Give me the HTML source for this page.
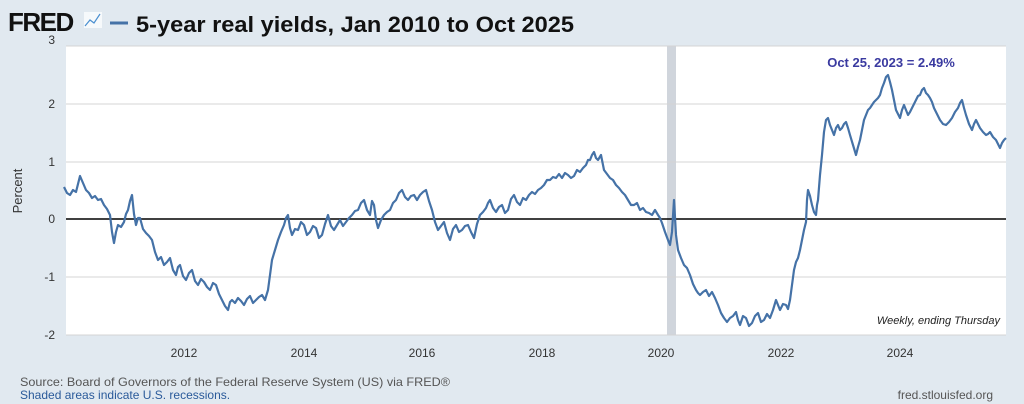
<!DOCTYPE html>
<html><head><meta charset="utf-8"><style>
body{margin:0;background:#e1e9f0;font-family:"Liberation Sans",sans-serif;}
</style></head><body>
<svg width="1024" height="404" xmlns="http://www.w3.org/2000/svg" style="display:block">
<rect width="1024" height="404" fill="#e1e9f0"/>
<text x="8" y="31" font-size="26" font-weight="bold" fill="#111" font-family="Liberation Sans" letter-spacing="-1.5">FRED</text>
<rect x="84" y="12" width="18" height="16" fill="#fff" opacity="0.7"/>
<polyline points="85,26 90,20 94,23 100,14" stroke="#4a8fd0" fill="none" stroke-width="1.2"/>
<line x1="110" y1="23" x2="128" y2="23" stroke="#4572a7" stroke-width="3"/>
<text x="136" y="32" font-size="22" font-weight="bold" fill="#111" textLength="438" lengthAdjust="spacingAndGlyphs">5-year real yields, Jan 2010 to Oct 2025</text>
<rect x="66" y="46" width="940" height="289" fill="#fff"/>
<rect x="667" y="46" width="9" height="289" fill="#d0d5dc"/>
<g stroke="#d4d4d4" stroke-width="1">
<line x1="66" y1="46" x2="1006" y2="46"/><line x1="66" y1="104" x2="1006" y2="104"/>
<line x1="66" y1="162" x2="1006" y2="162"/><line x1="66" y1="277" x2="1006" y2="277"/>
<line x1="66" y1="335" x2="1006" y2="335"/>
</g>
<line x1="66" y1="219" x2="1006" y2="219" stroke="#000" stroke-width="1.5"/>
<g font-size="12" fill="#333" text-anchor="end">
<text x="55" y="44">3</text><text x="55" y="108">2</text><text x="55" y="166">1</text>
<text x="55" y="223">0</text><text x="55" y="281">-1</text><text x="55" y="339">-2</text>
</g>
<text transform="translate(22,191) rotate(-90)" font-size="13" fill="#333" text-anchor="middle">Percent</text>
<g font-size="12" fill="#333" text-anchor="middle">
<text x="184" y="357">2012</text><text x="304" y="357">2014</text><text x="422" y="357">2016</text>
<text x="542" y="357">2018</text><text x="661" y="357">2020</text><text x="781" y="357">2022</text><text x="900" y="357">2024</text>
</g>
<polyline fill="none" stroke="#4572a7" stroke-width="2.2" stroke-linejoin="round" points="64,187 67,193 70,195 73,190 76,192 78,184 80,176 83,183 86,190 89,193 92,198 95,196 98,200 101,199 104,205 107,209 110,215 112,232 114,243 116,232 118,225 121,227 124,222 126,214 128,210 130,201 132,195 134,214 136,225 138,218 140,218 143,229 146,233 149,236 152,240 155,252 158,260 161,257 164,265 167,262 170,258 173,270 176,275 178,267 180,265 183,276 186,280 189,273 192,270 195,281 198,285 201,279 204,282 207,287 210,290 213,283 216,285 219,294 222,300 225,306 228,310 230,302 232,300 235,303 238,298 241,301 244,305 247,299 250,296 253,303 256,300 259,297 262,295 265,300 268,290 270,275 272,260 275,250 278,240 281,232 284,225 286,218 288,215 290,228 292,235 295,229 298,230 301,222 304,225 307,235 310,232 313,226 316,228 319,238 322,235 325,224 328,215 331,226 334,230 337,225 340,220 343,226 346,222 349,218 352,215 355,211 358,210 361,203 364,200 367,210 370,215 372,201 374,205 376,220 378,228 381,220 384,215 387,212 390,210 393,203 396,200 399,193 402,190 405,197 408,200 411,196 414,195 417,200 420,195 423,192 426,190 429,201 432,210 435,222 438,230 441,226 444,222 447,233 450,240 453,229 456,225 459,232 462,230 465,226 468,225 471,232 474,238 477,224 480,215 483,212 486,208 488,203 490,200 493,208 496,212 499,207 502,205 505,213 508,210 511,199 514,195 517,202 520,205 523,198 526,200 529,195 532,192 535,194 538,190 541,188 544,185 547,180 550,180 553,177 556,178 559,174 562,178 565,173 568,175 571,178 574,176 577,170 580,172 583,168 586,165 588,160 590,160 592,155 594,152 596,158 598,160 601,155 604,170 607,174 610,178 613,180 616,185 619,188 622,192 625,195 628,200 631,205 634,205 637,203 640,210 643,208 646,212 649,213 652,215 655,210 658,215 660,218 662,223 665,232 668,240 670,245 672,232 674,200 676,235 678,250 681,258 684,265 687,268 690,275 693,284 696,290 698,293 700,295 703,292 706,290 709,296 712,292 715,298 718,305 721,313 724,318 727,322 730,318 733,316 736,312 738,320 740,325 743,316 746,318 749,326 752,323 755,316 758,313 761,322 764,320 767,314 770,318 773,310 776,300 778,305 780,310 783,304 786,305 788,309 790,300 792,285 794,270 796,262 798,258 800,250 802,240 804,230 806,222 807,200 808,190 810,196 812,205 814,212 816,215 817,205 818,200 820,175 822,155 824,132 826,120 828,118 830,125 832,130 834,135 836,128 838,125 840,130 842,128 844,124 846,122 848,128 850,135 853,145 856,155 858,147 860,140 862,130 864,120 866,115 868,110 870,108 872,105 874,102 876,100 878,98 880,95 882,88 884,83 886,77 888,75 890,82 892,90 894,100 896,110 898,114 900,118 902,110 904,105 906,110 908,115 910,112 912,108 914,104 916,100 918,96 920,95 922,90 924,88 926,93 928,95 930,98 932,102 934,108 936,112 938,116 940,120 943,124 946,125 949,122 952,118 955,112 958,108 960,103 962,100 964,108 966,115 969,124 972,130 974,124 976,120 978,124 980,128 983,132 986,135 988,134 990,132 993,137 996,140 998,144 1000,148 1002,143 1004,140 1006,138"/>
<text x="891" y="67" font-size="13" font-weight="bold" fill="#3a3aa0" text-anchor="middle">Oct 25, 2023 = 2.49%</text>
<text x="1000" y="324" font-size="11" font-style="italic" fill="#222" text-anchor="end">Weekly, ending Thursday</text>
<text x="20" y="386" font-size="12" fill="#555" textLength="430" lengthAdjust="spacingAndGlyphs">Source: Board of Governors of the Federal Reserve System (US) via FRED®</text>
<text x="20" y="399" font-size="12" fill="#2a5a9a">Shaded areas indicate U.S. recessions.</text>
<text x="993" y="399" font-size="12" fill="#555" text-anchor="end">fred.stlouisfed.org</text>
</svg>
</body></html>
